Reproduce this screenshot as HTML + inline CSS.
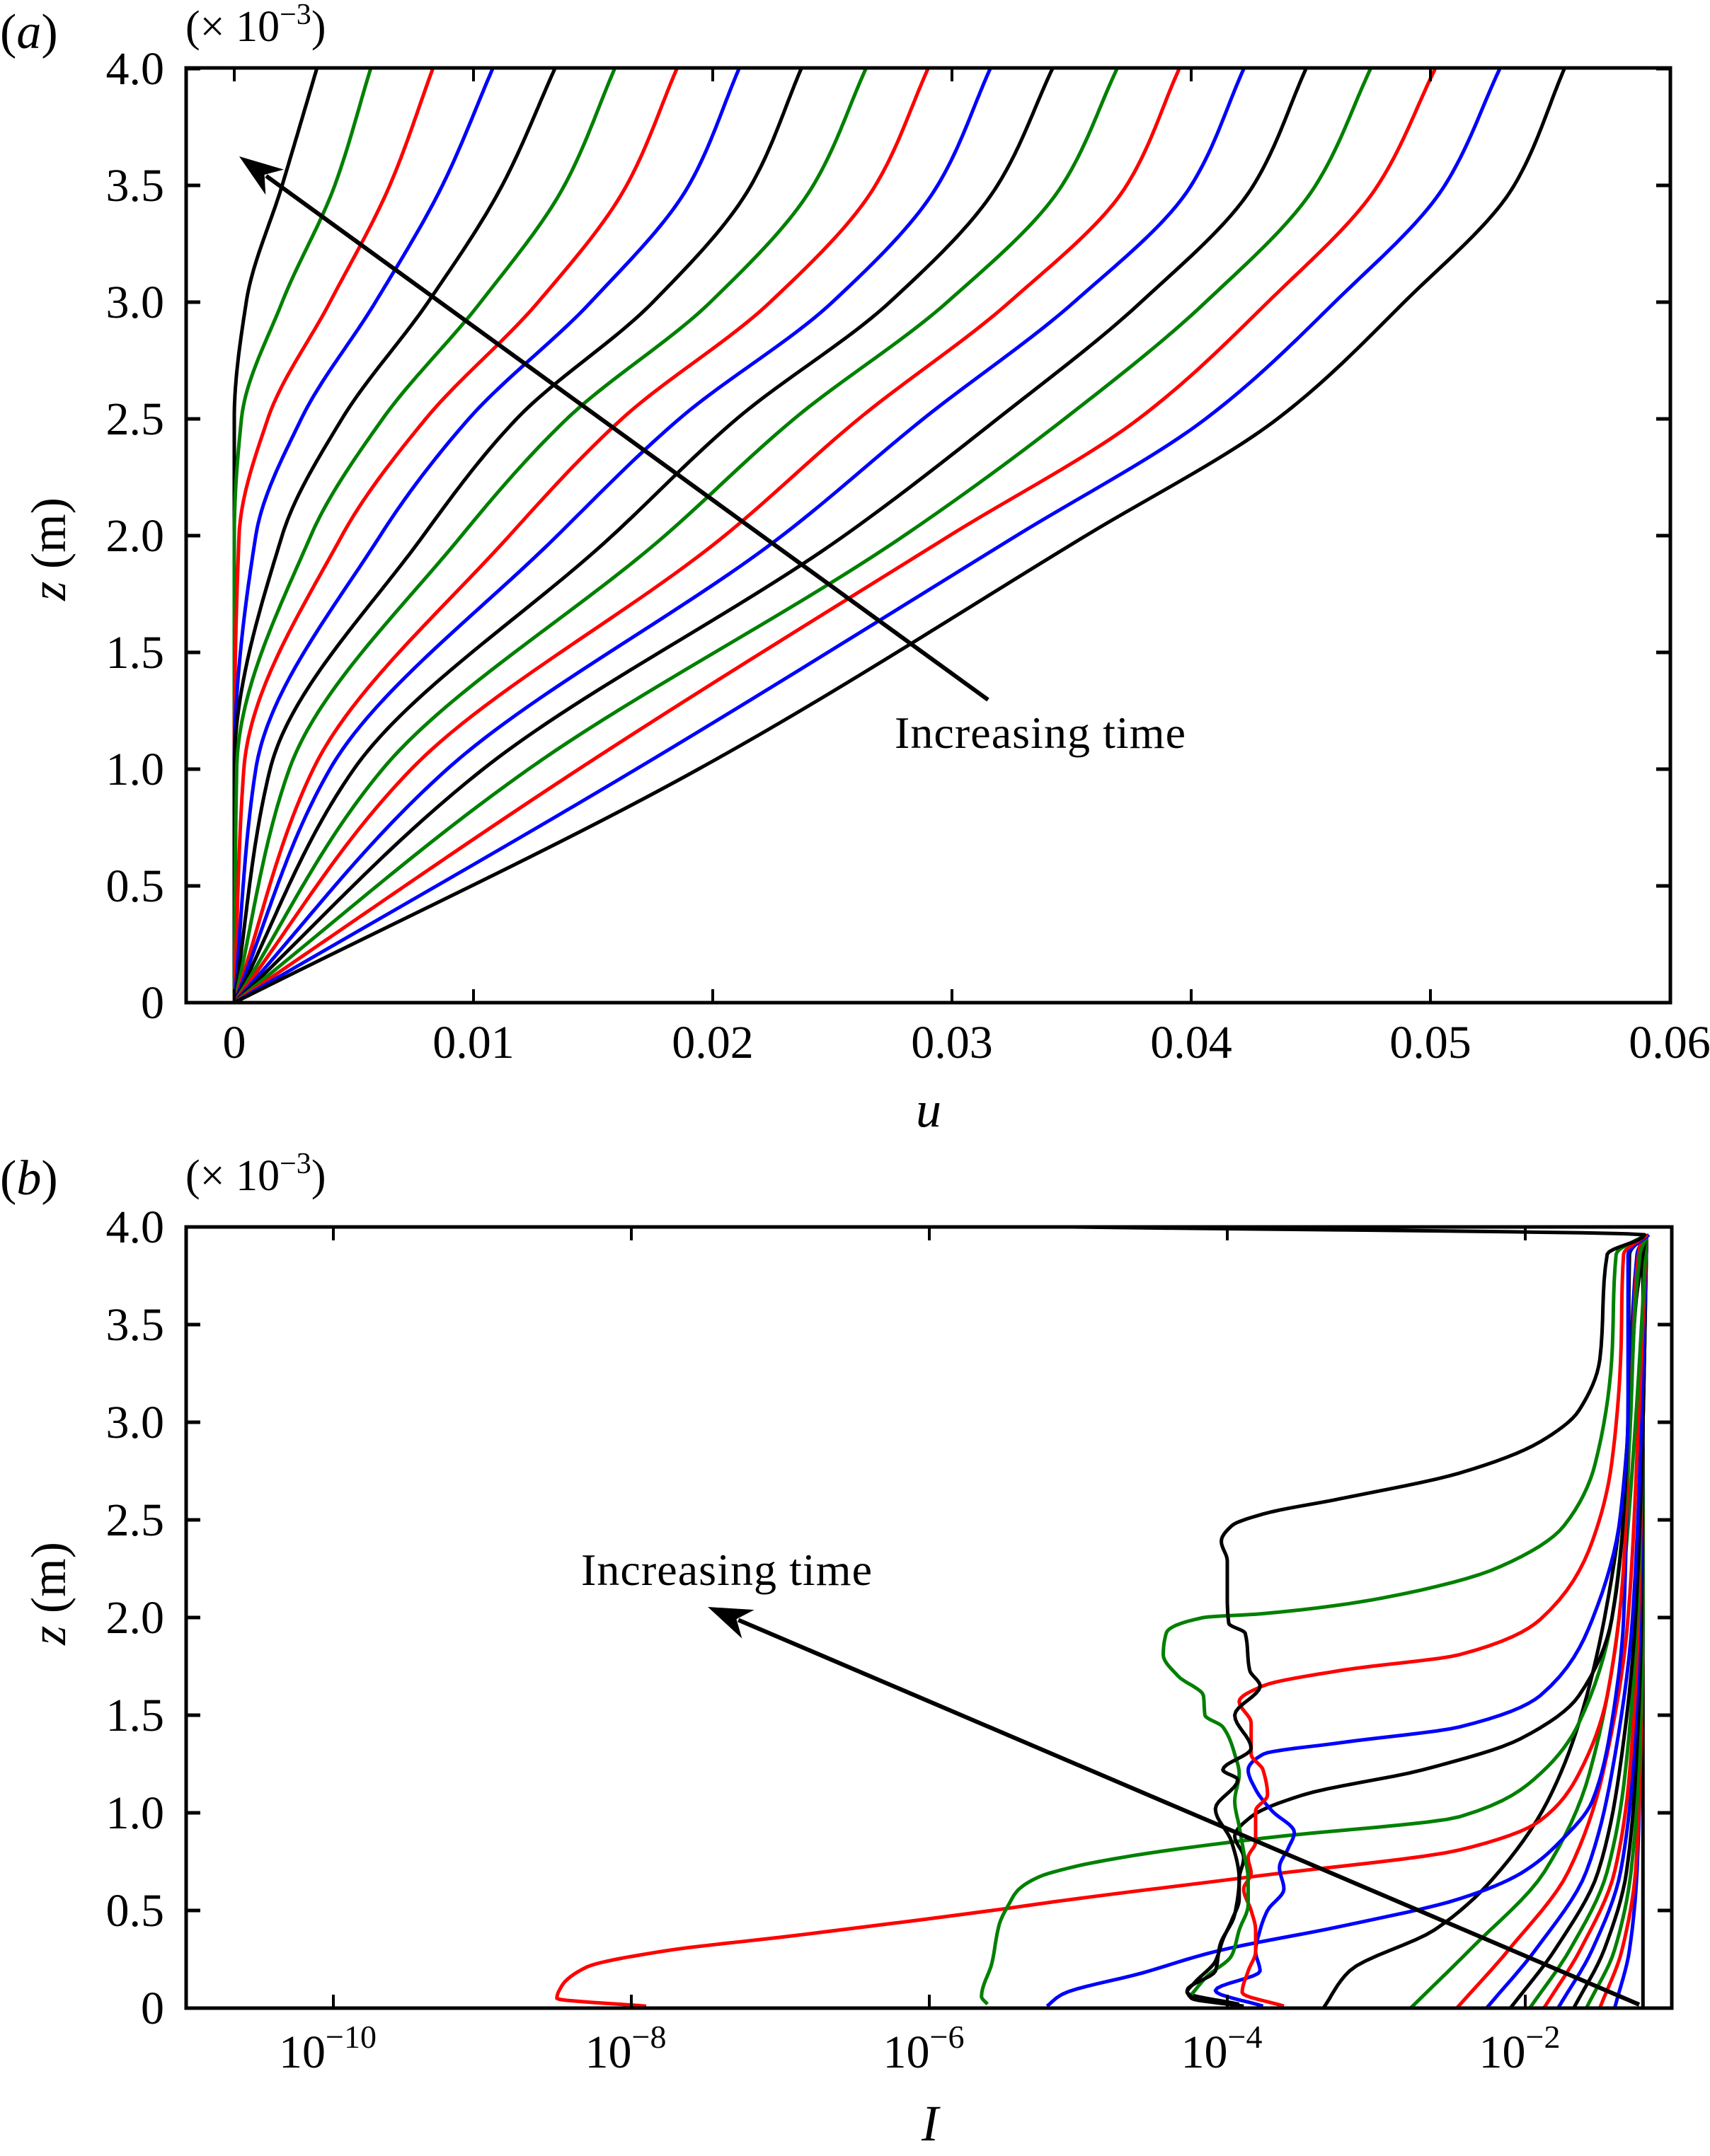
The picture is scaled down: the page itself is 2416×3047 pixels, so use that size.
<!DOCTYPE html>
<html><head><meta charset="utf-8"><style>
html,body{margin:0;padding:0;background:#fff;}
svg{display:block;font-family:"Liberation Serif",serif;}
</style></head><body>
<svg id="fig" xmlns="http://www.w3.org/2000/svg" width="2416" height="3047" viewBox="0 0 2416 3047">
<defs>
<clipPath id="clipA"><rect x="263" y="96" width="2097" height="1321"/></clipPath>
<clipPath id="clipB"><rect x="263" y="1734" width="2099" height="1104"/></clipPath>
</defs>
<g id="panelA">
<text x="0" y="68" font-size="70"><tspan>(</tspan><tspan font-style="italic">a</tspan><tspan>)</tspan></text>
<text x="262" y="58" font-size="62">(× 10<tspan dy="-24" font-size="42">−3</tspan><tspan dy="24">)</tspan></text>
<text transform="translate(92,776) rotate(-90)" text-anchor="middle" font-size="70"><tspan font-style="italic">z</tspan> (m)</text>
<text x="1312" y="1592" text-anchor="middle" font-size="72" font-style="italic">u</text>
<g id="curvesA" clip-path="url(#clipA)"></g>
<g id="axesA"></g>
<text x="1264" y="1057" font-size="64" textLength="411">Increasing time</text>
</g>
<g id="panelB">
<text x="0" y="1688" font-size="70"><tspan>(</tspan><tspan font-style="italic">b</tspan><tspan>)</tspan></text>
<text x="262" y="1682" font-size="62">(× 10<tspan dy="-24" font-size="42">−3</tspan><tspan dy="24">)</tspan></text>
<text transform="translate(92,2252) rotate(-90)" text-anchor="middle" font-size="70"><tspan font-style="italic">z</tspan> (m)</text>
<text x="1314" y="3025" text-anchor="middle" font-size="72" font-style="italic">I</text>
<g id="curvesB" clip-path="url(#clipB)"></g>
<g id="axesB"></g>
<text x="821" y="2240" font-size="64" textLength="411">Increasing time</text>
</g>
</svg>
<script>
// ---------- Panel (a) data: u at fixed heights z (x1e-3 m) for 21 times ----------
const zLevelsA = [0, 1, 2, 2.5, 3, 3.5, 4];
const u_z0  = [0,0,0,0,0,0,0,0,0,0,0,0,0,0,0,0,0,0,0,0,0];
const u_z1  = [0,0,0,0,0,0.0001,0.0004,0.0009,0.0015,0.0023,0.0033,0.0040,0.0050,0.0062,0.0074,0.0089,0.0104,0.0123,0.0144,0.0168,0.0194];
const u_z2  = [0,0,0.0002,0.0009,0.0020,0.0032,0.0045,0.0061,0.0079,0.0095,0.0115,0.0135,0.0158,0.0180,0.0205,0.0229,0.0255,0.0280,0.0299,0.0327,0.0356];
const u_z25 = [0,0.0003,0.0014,0.0028,0.0045,0.0062,0.0080,0.0098,0.0118,0.0139,0.0162,0.0186,0.0210,0.0234,0.0261,0.0288,0.0319,0.0347,0.0378,0.0406,0.0436];
const u_z3  = [0.0005,0.0020,0.0040,0.0059,0.0081,0.0103,0.0127,0.0149,0.0175,0.0199,0.0224,0.0250,0.0274,0.0298,0.0324,0.0351,0.0379,0.0406,0.0432,0.0460,0.0489];
const u_z35 = [0.0020,0.0042,0.0065,0.0087,0.0112,0.0138,0.0164,0.0190,0.0216,0.0242,0.0268,0.0294,0.0319,0.0346,0.0373,0.0400,0.0426,0.0452,0.0478,0.0506,0.0535];
const u_z4  = [0.00345,0.0057,0.0083,0.0108,0.0134,0.0159,0.0185,0.0211,0.0237,0.0264,0.0290,0.0316,0.0342,0.0369,0.0395,0.0422,0.0448,0.0475,0.0502,0.0529,0.0556];
const colorsA = ['#000000','#008000','#ff0000','#0000ff'];
const xTicksA = [0,0.01,0.02,0.03,0.04,0.05,0.06];
const xTickLabelsA = ['0','0.01','0.02','0.03','0.04','0.05','0.06'];
const yTicks = [0,0.5,1,1.5,2,2.5,3,3.5,4];
const yTickLabels = ['0','0.5','1.0','1.5','2.0','2.5','3.0','3.5','4.0'];

// ---------- Panel (b) data: log10(I) along each curve ----------
const zFan = [0,0.3,0.7,1.2,2,3,3.96];
const b1_z = [0,3.9,3.96];            const b1_logI = [-1.21,-1.21,-1.185];
const b2_logI  = [-1.40,-1.30,-1.25,-1.23,-1.21,-1.21,-1.185];
const b3_logI  = [-1.50,-1.35,-1.26,-1.23,-1.21,-1.21,-1.185];
const b4_logI  = [-1.59,-1.40,-1.29,-1.24,-1.21,-1.21,-1.185];
const b5_logI  = [-1.675,-1.47,-1.32,-1.26,-1.22,-1.21,-1.185];
const b6_logI  = [-1.78,-1.55,-1.36,-1.28,-1.23,-1.21,-1.185];
const b7_logI  = [-1.875,-1.63,-1.40,-1.30,-1.24,-1.21,-1.185];
const b8_logI  = [-1.97,-1.70,-1.45,-1.33,-1.25,-1.21,-1.185];
const b9_logI  = [-2.10,-1.80,-1.51,-1.37,-1.26,-1.21,-1.185];
const b10_logI = [-2.26,-1.93,-1.59,-1.42,-1.28,-1.22,-1.185];
const b11_logI = [-2.46,-2.11,-1.71,-1.48,-1.31,-1.24,-1.185];
const b12_logI = [-2.77,-2.37,-1.87,-1.57,-1.37,-1.26,-1.185];
const b13_z    = [0,0.19,0.4,0.66,1.06,1.46,1.99,2.53,3.06,3.59,3.96];
const b13_logI = [-3.355,-3.18,-2.61,-2.22,-1.85,-1.64,-1.47,-1.36,-1.30,-1.26,-1.19];
const b14_z    = [0.01,0.07,0.18,0.29,0.42,0.56,0.69,0.85,1.06,1.46,1.99,2.79,3.86,3.96];
const b14_logI = [-5.21,-5.11,-4.57,-4.08,-3.23,-2.44,-2.03,-1.77,-1.55,-1.42,-1.34,-1.31,-1.25,-1.19];
const b15_z    = [0.01,0.05,0.11,0.21,0.29,0.37,0.5,0.55,0.68,0.81,0.96,1.20,1.60,2.26,3.32,3.91,3.96];
const b15_logI = [-7.90,-8.50,-8.47,-8.30,-7.80,-6.92,-5.58,-5.11,-3.76,-2.44,-1.90,-1.64,-1.45,-1.34,-1.28,-1.23,-1.18];
const b16_z    = [0.02,0.06,0.23,0.43,0.54,0.60,0.67,0.72,0.78,0.87,0.98,1.20,1.46,1.99,2.79,3.86,3.96];
const b16_logI = [-5.61,-5.65,-5.58,-5.53,-5.46,-5.41,-5.27,-5.05,-4.64,-3.76,-2.44,-1.90,-1.64,-1.42,-1.31,-1.23,-1.18];
const b17_z    = [0.02,0.08,0.13,0.24,0.35,0.45,0.56,0.66,0.77,0.88,0.98,1.09,1.22,1.38,1.60,1.99,2.53,3.06,3.86,3.96];
const b17_logI = [-3.92,-4.27,-4.22,-4.08,-4.03,-3.97,-3.92,-3.92,-3.89,-3.95,-3.84,-3.50,-2.69,-2.03,-1.64,-1.42,-1.34,-1.31,-1.30,-1.19];
const b18_z    = [0.01,0.09,0.19,0.29,0.40,0.50,0.61,0.72,0.82,0.90,1.01,1.12,1.22,1.30,1.36,1.44,1.60,1.99,2.53,3.06,3.86,3.96];
const b18_logI = [-3.76,-4.08,-3.78,-3.81,-3.78,-3.73,-3.62,-3.65,-3.59,-3.55,-3.70,-3.81,-3.86,-3.76,-3.23,-2.44,-1.90,-1.55,-1.36,-1.31,-1.31,-1.17];
const b19_z    = [0.01,0.08,0.19,0.29,0.40,0.50,0.61,0.69,0.77,0.85,1.01,1.09,1.22,1.30,1.46,1.57,1.65,1.73,1.81,1.99,2.39,2.79,3.32,3.86,3.96];
const b19_logI = [-3.62,-3.90,-3.86,-3.81,-3.81,-3.84,-3.89,-3.84,-3.86,-3.81,-3.81,-3.73,-3.76,-3.84,-3.84,-3.92,-3.76,-3.23,-2.44,-1.90,-1.55,-1.42,-1.36,-1.34,-1.18];
const b20_z    = [0.07,0.16,0.27,0.40,0.53,0.66,0.80,0.93,1.06,1.20,1.30,1.44,1.50,1.60,1.70,1.81,1.92,2.00,2.02,2.10,2.26,2.47,2.79,3.32,3.86,3.96];
const b20_logI = [-4.24,-4.14,-3.97,-3.92,-3.86,-3.86,-3.89,-3.92,-3.95,-3.92,-3.95,-4.03,-4.15,-4.16,-4.33,-4.43,-4.41,-4.16,-3.76,-2.96,-2.17,-1.74,-1.53,-1.42,-1.39,-1.19];
const b21_z    = [0.01,0.05,0.09,0.19,0.32,0.48,0.66,0.85,1.02,1.17,1.22,1.33,1.50,1.65,1.73,1.92,1.97,2.10,2.29,2.39,2.47,2.53,2.61,2.74,2.90,3.06,3.32,3.86,3.96,4.0];
const b21_logI = [-3.89,-4.24,-4.27,-4.08,-4.05,-3.95,-3.92,-3.97,-4.08,-3.93,-4.03,-3.84,-3.95,-3.78,-3.85,-3.88,-3.99,-4.00,-4.00,-4.04,-3.97,-3.76,-3.23,-2.44,-1.90,-1.64,-1.50,-1.45,-1.20,-5.05];
const colorsB = ['#000000','#0000ff','#ff0000','#008000'];
const xTicksB = [-10,-8,-6,-4,-2];
const xTickExpB = ['−10','−8','−6','−4','−2'];

const NS='http://www.w3.org/2000/svg';
function mk(parent,tag,attrs){const e=document.createElementNS(NS,tag);for(const k in attrs)e.setAttribute(k,attrs[k]);parent.appendChild(e);return e;}

// axis functions
const xA=u=>331+u*33800, yA=z=>1417-z*330;
const xB=l=>471+(l+10)*210.5, yB=z=>2838-z*276;

function pchip(xs,ys){
  const n=xs.length,h=[],d=[],m=new Array(n);
  for(let i=0;i<n-1;i++){h[i]=xs[i+1]-xs[i];d[i]=(ys[i+1]-ys[i])/h[i];}
  m[0]=d[0];m[n-1]=d[n-2];
  for(let i=1;i<n-1;i++){
    if(d[i-1]*d[i]<=0)m[i]=0;
    else{const w1=2*h[i]+h[i-1],w2=h[i]+2*h[i-1];m[i]=(w1+w2)/(w1/d[i-1]+w2/d[i]);}
  }
  return x=>{let i=0;while(i<n-2&&x>xs[i+1])i++;
    const t=(x-xs[i])/h[i],t2=t*t,t3=t2*t;
    return (2*t3-3*t2+1)*ys[i]+(t3-2*t2+t)*h[i]*m[i]+(-2*t3+3*t2)*ys[i+1]+(t3-t2)*h[i]*m[i+1];};
}

// ---- panel a curves
const gA=document.getElementById('curvesA');
for(let i=0;i<u_z4.length;i++){
  const us=[u_z0[i],u_z1[i],u_z2[i],u_z25[i],u_z3[i],u_z35[i],u_z4[i]];
  const f=pchip(zLevelsA,us);
  let pts=[];
  for(let k=0;k<=240;k++){const z=4*k/240;pts.push(xA(Math.max(0,f(z))).toFixed(1)+','+yA(z).toFixed(1));}
  const p=mk(gA,'polyline',{points:pts.join(' '),fill:'none',stroke:colorsA[i%4],'stroke-width':5,'stroke-linejoin':'round'});
  
  
}

// ---- panel b curves (smooth monotone interpolation in z)
const gB=document.getElementById('curvesB');
const curvesB=[[b1_z,b1_logI],[zFan,b2_logI],[zFan,b3_logI],[zFan,b4_logI],[zFan,b5_logI],[zFan,b6_logI],[zFan,b7_logI],[zFan,b8_logI],[zFan,b9_logI],[zFan,b10_logI],[zFan,b11_logI],[zFan,b12_logI],[b13_z,b13_logI],[b14_z,b14_logI],[b15_z,b15_logI],[b16_z,b16_logI],[b17_z,b17_logI],[b18_z,b18_logI],[b19_z,b19_logI],[b20_z,b20_logI],[b21_z,b21_logI]];
curvesB.forEach((c,i)=>{
  const zs=c[0],ls=c[1];
  const f=pchip(zs,ls);
  const pts=[];
  for(let j=0;j<zs.length-1;j++){
    const steps=8;
    for(let k=0;k<steps;k++){const z=zs[j]+(zs[j+1]-zs[j])*k/steps;pts.push(xB(f(z)).toFixed(1)+','+yB(z).toFixed(1));}
  }
  pts.push(xB(ls[ls.length-1]).toFixed(1)+','+yB(zs[zs.length-1]).toFixed(1));
  const p=mk(gB,'polyline',{points:pts.join(' '),fill:'none',stroke:colorsB[i%4],'stroke-width':5,'stroke-linejoin':'round'});
  
  
});

// ---- axes
function frame(g,x0,y0,x1,y1,name){
  const r=mk(g,'rect',{x:x0,y:y0,width:x1-x0,height:y1-y0,fill:'none',stroke:'#000','stroke-width':5});
  
  
}
function yAxis(g,yf,x0,x1,prefix){
  yTicks.forEach((z,i)=>{
    const y=yf(z);
    mk(g,'line',{x1:x0,y1:y,x2:x0+20,y2:y,stroke:'#000','stroke-width':5});
    mk(g,'line',{x1:x1,y1:y,x2:x1-20,y2:y,stroke:'#000','stroke-width':5});
    const t=mk(g,'text',{x:232,y:y+22,'text-anchor':'end','font-size':66});
    t.textContent=yTickLabels[i];
    
    
  });
}
const axA=document.getElementById('axesA');
frame(axA,263,96,2360,1417,'panel-a-plot-frame');
yAxis(axA,yA,263,2360,'panel-a');
xTicksA.forEach((u,i)=>{
  const x=xA(u);
  if(x<2355){
    mk(axA,'line',{x1:x,y1:1417,x2:x,y2:1398,stroke:'#000','stroke-width':4});
    mk(axA,'line',{x1:x,y1:96,x2:x,y2:115,stroke:'#000','stroke-width':4});
  }
  const t=mk(axA,'text',{x:x,y:1495,'text-anchor':'middle','font-size':66});
  t.textContent=xTickLabelsA[i];
  
  
});
const axB=document.getElementById('axesB');
frame(axB,263,1734,2362,2838,'panel-b-plot-frame');
yAxis(axB,yB,263,2362,'panel-b');
xTicksB.forEach((l,i)=>{
  const x=xB(l);
  mk(axB,'line',{x1:x,y1:2838,x2:x,y2:2819,stroke:'#000','stroke-width':4});
  mk(axB,'line',{x1:x,y1:1734,x2:x,y2:1753,stroke:'#000','stroke-width':4});
  const t=mk(axB,'text',{x:x-8,y:2922,'text-anchor':'middle','font-size':66});
  const s1=mk(t,'tspan',{});s1.textContent='10';
  const s2=mk(t,'tspan',{dy:-28,'font-size':46});s2.textContent=xTickExpB[i];
  
  
});

// ---- arrows
function arrow(g,x1,y1,x2,y2,name){
  const a=Math.atan2(y2-y1,x2-x1),L=62,W=22;
  const bx=x2-L*Math.cos(a),by=y2-L*Math.sin(a);
  const l=mk(g,'line',{x1:x1,y1:y1,x2:bx+15*Math.cos(a),y2:by+15*Math.sin(a),stroke:'#000','stroke-width':6});
  
  
  const px=-Math.sin(a),py=Math.cos(a);
  const nx=x2-(L-18)*Math.cos(a),ny=y2-(L-18)*Math.sin(a);
  const h=mk(g,'polygon',{points:`${x2},${y2} ${bx+W*px},${by+W*py} ${nx},${ny} ${bx-W*px},${by-W*py}`,fill:'#000'});
  
  
}
arrow(document.getElementById('panelA'),1396,989,338,221,'panel-a-time-arrow');
arrow(document.getElementById('panelB'),2316,2833,1000,2271,'panel-b-time-arrow');
</script>
</body></html>
